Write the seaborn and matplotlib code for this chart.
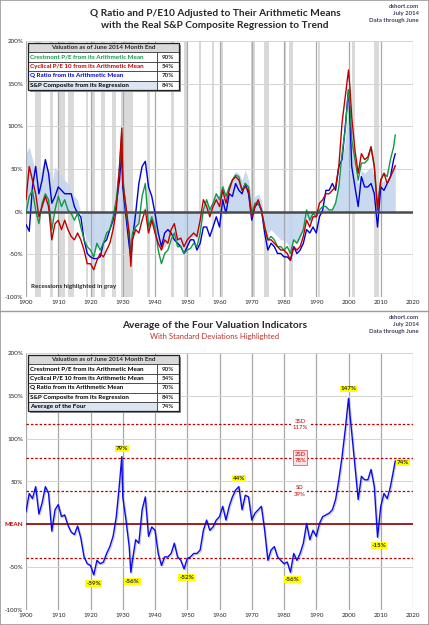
import numpy as np
import pandas as pd
import seaborn as sns
import matplotlib.pyplot as plt
import matplotlib.patheffects as pe
from matplotlib.patches import Rectangle
from matplotlib.lines import Line2D

# x positions (years), with a few extra points at the big turning points
years = sorted(list(range(1900, 2015)) + [1929.7, 1932.5, 2000.5, 2014.5])

# Crestmont P/E vs its mean (%)
crestmont = [
    -2, 18, 25, 2, -14, 10, 21, 14, -21, 2,          # 1900s
    18, 6, 14, 2, -2, -10, -2, -18, -33, -41,        # 1910s
    -45, -53, -37, -45, -37, -25, -21, -6, 14, 53,   # 1920s
    92,                                              # 1929.7
    41, 2, -29, -49,                                 # 1930-32, 1932.5
    -25, -18, -14, 18, 33, -18, -6,                  # 1933-39
    -18, -45, -61, -49, -45, -33, -25, -41, -41, -49,
    -45, -43, -37, -41, -25, 2, 14, 2, 10, 21,
    14, 29, 18, 29, 37, 43, 41, 25, 33, 29,
    -2, 10, 10, 2, -18, -33, -29, -33, -41, -41,
    -45, -41, -49, -33, -37, -29, -21, 2, -10, -2,
    -6, 2, 6, 6, 2, 2, 10, 29, 68, 96,
    143, 123,                                        # 2000, 2000.5
    84, 61, 37, 57, 57, 61, 76, 53, 6,               # 2001-09
    37, 45, 41, 61, 76, 90]                          # 2010-14, 2014.5

# Cyclical P/E10 vs its mean (%)
pe10 = [
    14, 53, 37, 21, -6, 6, 18, 6, -33, -14,
    -10, -21, -10, -21, -29, -33, -25, -33, -45, -61,
    -61, -68, -57, -49, -53, -45, -37, -21, 2, 53,
    98,
    33, 6, -25, -64,
    -33, -21, -25, -10, 2, -25, -10,
    -25, -37, -45, -33, -37, -21, -14, -33, -31, -41,
    -33, -29, -25, -29, -10, 14, 6, -6, 6, 14,
    6, 25, 10, 25, 37, 41, 37, 25, 29, 25,
    -6, 6, 14, 2, -18, -33, -33, -37, -41, -45,
    -45, -49, -57, -41, -45, -41, -29, -10, -18, -6,
    -6, 10, 14, 21, 21, 25, 29, 53, 104, 135,
    166, 143,
    111, 72, 45, 68, 61, 64, 76, 53, 2,
    37, 45, 33, 41, 49, 54]

# Q ratio vs its mean (%)
q_ratio = [
    -15, -23, 29, 53, 21, 37, 61, 45, 10, 18,
    29, 25, 21, 21, 21, 6, -2, -6, -33, -49,
    -53, -55, -55, -53, -37, -33, -21, -10, 10, 37,
    72,
    29, -6, -40, -55,
    -33, -2, 33, 53, 59, 29, 18,
    -2, -25, -41, -25, -21, -25, -33, -37, -41, -49,
    -41, -33, -33, -45, -37, -18, -18, -29, -18, -6,
    -18, 14, -2, 21, 18, 33, 25, 21, 33, 21,
    -10, 6, 10, 2, -25, -45, -37, -41, -49, -49,
    -53, -53, -57, -41, -49, -45, -37, -21, -25, -18,
    -25, -6, 2, 25, 25, 33, 25, 53, 61, 100,
    143, 104,
    53, 29, 6, 41, 29, 29, 33, 21, -18,
    29, 25, 33, 41, 61, 68]

# real S&P Composite vs its regression (%)
sp_regression = [
    68, 76, 61, 45, 37, 53, 57, 49, 33, 53,
    45, 41, 37, 33, 25, 18, 14, -2, -25, -33,
    -41, -49, -41, -41, -37, -29, -21, -10, 6, 37,
    84,
    29, -6, -37, -45,
    -25, -18, -10, 2, 6, -18, -14,
    -21, -37, -45, -41, -37, -29, -29, -41, -41, -45,
    -41, -33, -29, -33, -18, 6, 14, 6, 14, 21,
    18, 33, 21, 33, 41, 47, 45, 37, 49, 37,
    14, 18, 21, 14, -14, -25, -21, -25, -29, -33,
    -33, -37, -45, -33, -37, -33, -21, -6, -14, -2,
    -6, 2, 2, 6, 2, 2, 14, 37, 61, 84,
    127, 111,
    72, 45, 33, 49, 45, 49, 53, 41, 6,
    33, 37, 33, 45, 53, 57]

# average of the four (%)
avg_four = [
    15, 36, 30, 44, 12, 25, 44, 36, -8, 17,
    23, 9, 11, -1, -9, -12, -2, -16, -38, -46,
    -48, -59, -42, -46, -44, -34, -26, -14, 9, 48,
    79,
    32, 5, -26, -56,
    -42, -18, -22, 17, 32, -14, -3,
    -7, -34, -48, -38, -38, -34, -22, -38, -42, -52,
    -40, -38, -34, -34, -30, -7, 5, -7, -3, 5,
    9, 21, 5, 21, 32, 40, 44, 17, 34, 32,
    5, 13, 17, 21, -7, -42, -30, -26, -38, -42,
    -46, -44, -56, -34, -42, -34, -22, 1, -18, -7,
    -14, 1, 9, 11, 13, 17, 29, 52, 79, 111,
    147, 126,
    107, 68, 29, 56, 52, 52, 64, 44, -15,
    21, 36, 30, 44, 64, 74]

# NBER recessions
rec_start = [1902.7, 1907.4, 1910.0, 1913.0, 1918.6, 1920.0, 1923.4, 1926.8, 1929.6, 1937.4, 1945.1,
             1948.9, 1953.5, 1957.6, 1960.3, 1969.9, 1973.9, 1980.0, 1981.5, 1990.5, 2001.2, 2007.9]
rec_end = [1904.6, 1908.5, 1912.0, 1914.9, 1919.2, 1921.5, 1924.5, 1927.9, 1933.2, 1938.5, 1945.8,
           1949.8, 1954.4, 1958.3, 1961.1, 1970.9, 1975.2, 1980.5, 1982.9, 1991.2, 2001.9, 2009.5]

# table contents
table_labels = ['Crestmont P/E from its Arithmetic Mean', 'Cyclical P/E 10 from its Arithmetic Mean',
                'Q Ratio from its Arithmetic Mean', 'S&P Composite from its Regression']
table_values = ['90%', '54%', '70%', '84%']
avg_label = 'Average of the Four'
avg_value = '74%'

# standard deviation levels and labelled extremes in the lower chart
sd_levels = [117, 78, 39, -39]
sd_labels = ['3SD\n117%', '2SD\n78%', 'SD\n39%']
peak_years = [1921, 1929.7, 1932.5, 1949, 1966, 1982, 2000, 2009, 2014.5]
peak_values = [-59, 79, -56, -52, 44, -56, 147, -15, 74]

# ---------------------------------------------------------------
sns.set_style('white')
plt.rcParams['font.family'] = ['Lato', 'DejaVu Sans']

W, H = 429, 625
fig = plt.figure(figsize=(W / 100, H / 100), dpi=100)


def fx(px):
    return px / W


def fy(py):
    return 1 - py / H


ax1 = fig.add_axes([fx(26), fy(297), (413 - 26) / W, (297 - 41) / H])
ax2 = fig.add_axes([fx(26), fy(610), (413 - 26) / W, (610 - 353) / H])

colors = {'Crestmont': '#109848', 'P/E10': '#c00000', 'Q Ratio': '#0000d8'}
top_df = pd.DataFrame({'year': years * 3,
                       'value': q_ratio + crestmont + pe10,
                       'series': ['Q Ratio'] * len(years) + ['Crestmont'] * len(years) + ['P/E10'] * len(years)})

# top chart
for s, e in zip(rec_start, rec_end):
    ax1.axvspan(s, e, color='#d9d9d9', lw=0, zorder=0)
ax1.fill_between(years, 0, sp_regression, color='#c3d6ef', lw=0, alpha=0.9, zorder=0.3)
sns.lineplot(data=top_df, x='year', y='value', hue='series', hue_order=['Q Ratio', 'Crestmont', 'P/E10'],
             palette=colors, lw=1.0, legend=False, ax=ax1, zorder=3)
ax1.axhline(0, color='#4a4a4a', lw=1.8, zorder=4)

# bottom chart
sns.lineplot(x=years, y=avg_four, color='#0a0aee', lw=1.0, ax=ax2, zorder=4,
             path_effects=[pe.SimpleLineShadow(offset=(0.8, -0.8), alpha=0.18), pe.Normal()])
ax2.axhline(0, color='#8b0000', lw=1.2, zorder=3)
for v in sd_levels:
    ax2.axhline(v, color='#c00000', lw=0.9, ls=(0, (2, 1.5)), zorder=3)
for v, lab in zip(sd_levels[:3], sd_labels):
    box = dict(boxstyle='square,pad=0.25', fc='white', ec='none')
    if v == 78:
        box = dict(boxstyle='square,pad=0.25', fc='#fde0e0', ec='#e06060', lw=0.6)
    ax2.text(1985, v, lab, color='#c00000', fontsize=4.3, ha='center', va='center',
             linespacing=1.3, bbox=box, zorder=5)

label_offsets = [(0, -10), (0, 10), (0.5, -11), (0.8, -10), (0, 10), (0.6, -8), (0, 11), (0.5, -10), (2.5, -2)]
for x, v, (dx, dy) in zip(peak_years, peak_values, label_offsets):
    ax2.text(x + dx, v + dy, f'{v}%', fontsize=4.5, weight='bold', ha='center', va='center',
             bbox=dict(boxstyle='square,pad=0.15', fc='#ffff00', ec='none'), zorder=6)

for ax in (ax1, ax2):
    ax.set_xlim(1900, 2020)
    ax.set_ylim(-100, 200)
    ax.set_xticks(range(1900, 2021, 10))
    ax.set_yticks(range(-100, 201, 50))
    ax.set_yticklabels([f'{t}%' for t in range(-100, 201, 50)])
    ax.tick_params(labelsize=4.5, length=0, pad=2)
    ax.set_xlabel('')
    ax.set_ylabel('')
    ax.set_axisbelow(True)
    ax.grid(axis='x', color='#a8a8a8', lw=0.9)
    ax.grid(axis='y', color='#d4d4d4', lw=0.7)
    for sp in ax.spines.values():
        sp.set_visible(False)

ylabs = ax2.get_yticklabels()
ylabs[2].set_text('MEAN')
ax2.set_yticklabels(ylabs)
ax2.get_yticklabels()[2].set_color('#c00000')
ax2.get_yticklabels()[2].set_fontweight('bold')

ax1.text(1901.5, -88, 'Recessions highlighted in gray', fontsize=4.6, weight='bold', va='center')

# titles
fig.text(fx(215), fy(13), 'Q Ratio and P/E10 Adjusted to Their Arithmetic Means', ha='center', va='center',
         fontsize=7.3, weight='bold')
fig.text(fx(215), fy(25), 'with the Real S&P Composite Regression to Trend', ha='center', va='center',
         fontsize=7.3, weight='bold')
fig.text(fx(215), fy(325), 'Average of the Four Valuation Indicators', ha='center', va='center',
         fontsize=7.3, weight='bold')
fig.text(fx(215), fy(336), 'With Standard Deviations Highlighted', ha='center', va='center',
         fontsize=5.6, color='#c0302a')
for top in (4, 315):
    fig.text(fx(419), fy(top), 'dshort.com\nJuly 2014\nData through June', ha='right', va='top',
             fontsize=4.3, weight='bold', color='#404060', linespacing=1.45, multialignment='right')


# tables
def draw_table(y0, labels, values, text_colors, row_bgs):
    x0, x1, xv = 28, 179, 157
    rh = 9.4
    n = len(labels) + 1
    fig.add_artist(Rectangle((fx(x0 + 2), fy(y0 + n * rh + 2)), (x1 - x0) / W, n * rh / H,
                             transform=fig.transFigure, fc='#8c8c8c', ec='none', zorder=9))
    rows = [('Valuation as of June 2014 Month End', None, 'black', '#d9d9d9')]
    rows += list(zip(labels, values, text_colors, row_bgs))
    for i, (lab, val, tc, bg) in enumerate(rows):
        ytop = y0 + i * rh
        if val is None:
            fig.add_artist(Rectangle((fx(x0), fy(ytop + rh)), (x1 - x0) / W, rh / H, transform=fig.transFigure,
                                     fc=bg, ec='#404040', lw=0.6, zorder=10))
            fig.text(fx((x0 + x1) / 2), fy(ytop + rh / 2), lab, ha='center', va='center', fontsize=4.5,
                     weight='bold', zorder=11)
        else:
            fig.add_artist(Rectangle((fx(x0), fy(ytop + rh)), (xv - x0) / W, rh / H, transform=fig.transFigure,
                                     fc=bg, ec='#404040', lw=0.6, zorder=10))
            fig.add_artist(Rectangle((fx(xv), fy(ytop + rh)), (x1 - xv) / W, rh / H, transform=fig.transFigure,
                                     fc='white', ec='#404040', lw=0.6, zorder=10))
            fig.text(fx(x0 + 2.5), fy(ytop + rh / 2), lab, ha='left', va='center', fontsize=4.5,
                     weight='bold', color=tc, zorder=11)
            fig.text(fx((xv + x1) / 2), fy(ytop + rh / 2), val, ha='center', va='center', fontsize=4.5,
                     weight='bold', zorder=11)
    fig.add_artist(Rectangle((fx(x0), fy(y0 + n * rh)), (x1 - x0) / W, n * rh / H, transform=fig.transFigure,
                             fill=False, ec='#202020', lw=0.9, zorder=12))


draw_table(43, table_labels, table_values, ['#109848', '#c00000', '#0000d8', 'black'],
           ['white', 'white', 'white', '#dce6f2'])
draw_table(355, table_labels + [avg_label], table_values + [avg_value], ['black'] * 5,
           ['white'] * 4 + ['#dce6f2'])

# frame and separator
fig.add_artist(Rectangle((0, 0), 1, 1, transform=fig.transFigure, fill=False, ec='#9a9a9a', lw=1.2))
fig.add_artist(Line2D([0, 1], [fy(311), fy(311)], transform=fig.transFigure, color='#9a9a9a', lw=1.0))

fig.savefig('out.png', dpi=100)
